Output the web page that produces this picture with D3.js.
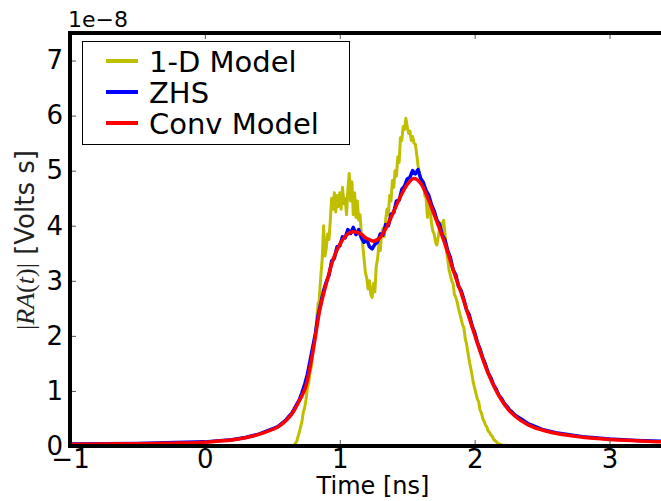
<!DOCTYPE html>
<html>
<head>
<meta charset="utf-8">
<script src="https://cdnjs.cloudflare.com/ajax/libs/d3/7.8.5/d3.min.js"></script>
<style>
  body { margin: 0; background: #fff; }
  svg { display: block; }
</style>
</head>
<body>
<div id="chart"></div>
<script>
// data, amplitudes in units of 1e-8 Volts s
var xTicks = [-1, 0, 1, 2, 3];
var yTicks = [0, 1, 2, 3, 4, 5, 6, 7];

// Conv Model (smooth)
var convTime = [-1, -0.75, -0.5, -0.25, 0, 0.1, 0.2, 0.3, 0.4, 0.5, 0.55, 0.6, 0.65, 0.7, 0.75, 0.8, 0.85, 0.9, 0.95,
  1.0, 1.05, 1.1, 1.15, 1.2, 1.25, 1.3, 1.35, 1.4, 1.45, 1.5, 1.55, 1.6, 1.65, 1.7, 1.75, 1.8, 1.85, 1.9, 1.95,
  2.0, 2.05, 2.1, 2.15, 2.2, 2.25, 2.3, 2.4, 2.5, 2.6, 2.8, 3.0, 3.2, 3.4, 3.5];
var convAmp = [0.03, 0.035, 0.04, 0.05, 0.07, 0.09, 0.11, 0.15, 0.21, 0.3, 0.36, 0.46, 0.6, 0.82, 1.1, 1.7, 2.45, 2.95, 3.38,
  3.66, 3.83, 3.89, 3.86, 3.77, 3.72, 3.79, 3.99, 4.26, 4.53, 4.75, 4.86, 4.77, 4.52, 4.2, 3.88, 3.52, 3.13, 2.78, 2.4,
  2.02, 1.65, 1.32, 1.05, 0.83, 0.66, 0.54, 0.38, 0.29, 0.23, 0.16, 0.12, 0.095, 0.075, 0.07];

// ZHS (noisy)
var zhsTime = [-1, -0.5, 0, 0.2, 0.3, 0.4,
  0.5, 0.52, 0.54, 0.56, 0.58, 0.6, 0.62, 0.64, 0.66, 0.68, 0.7, 0.72, 0.74, 0.76, 0.78,
  0.8, 0.82, 0.84, 0.86, 0.88, 0.9, 0.92, 0.94, 0.96, 0.98,
  1.0, 1.02, 1.04, 1.06, 1.08, 1.1, 1.12, 1.14, 1.16, 1.18,
  1.2, 1.22, 1.24, 1.26, 1.28, 1.3, 1.32, 1.34, 1.36, 1.38,
  1.4, 1.42, 1.44, 1.46, 1.48, 1.5, 1.52, 1.54, 1.56, 1.58,
  1.6, 1.62, 1.64, 1.66, 1.68, 1.7, 1.72, 1.74, 1.76, 1.78,
  1.8, 1.82, 1.84, 1.86, 1.88, 1.9, 1.92, 1.94, 1.96, 1.98,
  2.0, 2.02, 2.04, 2.06, 2.08, 2.1, 2.12, 2.14, 2.16, 2.18,
  2.2, 2.22, 2.24, 2.26, 2.28, 2.3, 2.35, 2.4, 2.45, 2.5,
  2.6, 2.8, 3.0, 3.2, 3.5];
var zhsAmp = [0.035, 0.045, 0.075, 0.115, 0.155, 0.215,
  0.31, 0.33, 0.35, 0.39, 0.43, 0.47, 0.53, 0.58, 0.66, 0.75, 0.84, 0.97, 1.12, 1.3, 1.55,
  1.8, 2.05, 2.38, 2.6, 2.82, 2.98, 3.1, 3.36, 3.41, 3.62,
  3.63, 3.8, 3.78, 3.93, 3.86, 3.97, 3.84, 3.93, 3.78, 3.7,
  3.75, 3.62, 3.58, 3.66, 3.7, 3.85, 3.83, 4.02, 4.0, 4.21,
  4.24, 4.45, 4.46, 4.66, 4.72, 4.85, 4.88, 5.0, 4.94, 5.02,
  4.86, 4.78, 4.64, 4.55, 4.38, 4.27, 4.1, 4.02, 3.83, 3.74,
  3.55, 3.42, 3.2, 3.11, 2.9, 2.82, 2.66, 2.47, 2.38, 2.19,
  2.06, 1.88, 1.76, 1.6, 1.48, 1.33, 1.24, 1.11, 1.03, 0.92,
  0.86, 0.77, 0.72, 0.65, 0.61, 0.56, 0.48, 0.4, 0.35, 0.3,
  0.24, 0.17, 0.125, 0.1, 0.075];

// 1-D Model (noisy, ends at 2.33 ns)
var oneDTime = [0, 0.3, 0.6, 0.66, 0.68, 0.7, 0.72, 0.73, 0.74, 0.75, 0.76, 0.77, 0.78, 0.79,
  0.8, 0.81, 0.82, 0.83, 0.84, 0.845, 0.85, 0.86, 0.87, 0.88, 0.89,
  0.9, 0.91, 0.92, 0.93, 0.94, 0.95, 0.96, 0.97, 0.98, 0.99,
  1.0, 1.01, 1.02, 1.03, 1.04, 1.05, 1.06, 1.07, 1.08, 1.09,
  1.1, 1.11, 1.12, 1.13, 1.14, 1.15, 1.16, 1.17, 1.18, 1.19,
  1.2, 1.21, 1.22, 1.23, 1.24, 1.25, 1.26, 1.27, 1.28, 1.29,
  1.3, 1.31, 1.32, 1.33, 1.34, 1.35, 1.36, 1.37, 1.38, 1.39,
  1.4, 1.41, 1.42, 1.43, 1.44, 1.45, 1.46, 1.47, 1.48, 1.49,
  1.5, 1.51, 1.52, 1.53, 1.54, 1.55, 1.56, 1.57, 1.58, 1.59,
  1.6, 1.61, 1.62, 1.63, 1.64, 1.65, 1.66, 1.67, 1.68, 1.69,
  1.7, 1.71, 1.72, 1.73, 1.74, 1.75, 1.76, 1.77, 1.78, 1.79,
  1.8, 1.81, 1.82, 1.83, 1.84, 1.85, 1.86, 1.87, 1.88, 1.89,
  1.9, 1.91, 1.92, 1.93, 1.94, 1.95, 1.96, 1.97, 1.98, 1.99,
  2.0, 2.01, 2.02, 2.03, 2.04, 2.05, 2.06, 2.07, 2.08, 2.09,
  2.1, 2.11, 2.12, 2.13, 2.14, 2.15, 2.16, 2.17, 2.18, 2.2, 2.25, 2.33];
var oneDAmp = [0, 0, 0, 0.01, 0.08, 0.25, 0.45, 0.62, 0.7, 0.85, 1.05, 1.15, 1.35, 1.45,
  1.7, 1.9, 2.05, 2.35, 2.6, 2.5, 2.75, 3.1, 3.4, 4.0, 3.45,
  3.6, 3.85, 3.75, 4.1, 4.5, 4.3, 4.6, 4.25, 4.55, 4.35,
  4.6, 4.3, 4.7, 4.4, 4.5, 4.2, 4.65, 4.95, 4.45, 4.8,
  4.2, 4.6, 4.15, 4.45, 4.1, 4.2, 3.85, 3.65, 3.4, 3.15,
  3.05, 2.85, 3.0, 2.75, 2.7, 2.95, 2.8, 3.25, 3.4, 3.65,
  3.55, 3.85, 3.95, 3.8, 4.1, 4.3, 4.2, 4.55, 4.45, 4.82,
  4.7, 5.0, 4.9, 5.25, 5.15, 5.6, 5.55, 5.8, 5.75, 5.95,
  5.8, 5.68, 5.72, 5.55, 5.62, 5.5, 5.48, 5.3, 5.1, 4.95,
  4.85, 4.75, 4.8, 4.55, 4.5, 4.15, 4.4, 4.3, 4.05, 3.9,
  3.85, 3.7, 3.65, 3.8, 3.95, 4.05, 3.9, 4.1, 3.85, 3.55,
  3.4, 3.2, 3.1, 3.0, 2.95, 2.75, 2.7, 2.62, 2.5, 2.4,
  2.3, 2.2, 2.15, 1.95, 1.85, 1.7, 1.55, 1.42, 1.3, 1.15,
  1.05, 0.95, 0.85, 0.8, 0.65, 0.6, 0.5, 0.45, 0.38, 0.35,
  0.27, 0.25, 0.2, 0.18, 0.12, 0.1, 0.08, 0.05, 0.04, 0.02, 0.01, 0];

var seriesNames = ["1-D Model", "ZHS", "Conv Model"];
var seriesColors = ["#bfbf00", "#0000ff", "#ff0000"];

var svgWidth = 661;
var svgHeight = 501;

var margin = { top: 33, left: 70, bottom: 55 };
var plotRight = 677; // axes run past the right edge of the picture
var plotBottom = svgHeight - margin.bottom;

var svg = d3.select("#chart").append("svg")
  .attr("width", svgWidth)
  .attr("height", svgHeight)
  .style("font-family", "'DejaVu Sans', sans-serif");

var xScale = d3.scaleLinear()
  .domain([-1, 3.5])
  .range([margin.left, plotRight]);

var yScale = d3.scaleLinear()
  .domain([0, 7.5])
  .range([plotBottom, margin.top]);

svg.append("clipPath")
  .attr("id", "plotClip")
  .append("rect")
  .attr("x", margin.left)
  .attr("y", margin.top)
  .attr("width", plotRight - margin.left)
  .attr("height", plotBottom - margin.top);

var lineGen = d3.line()
  .x(d => xScale(d[0]))
  .y(d => yScale(d[1]));

var smoothLine = d3.line()
  .x(d => xScale(d[0]))
  .y(d => yScale(d[1]))
  .curve(d3.curveMonotoneX);

var lines = svg.append("g").attr("clip-path", "url(#plotClip)");

// 1-D model underneath
lines.append("path")
  .datum(d3.zip(oneDTime, oneDAmp))
  .attr("d", lineGen)
  .attr("fill", "none")
  .attr("stroke", seriesColors[0])
  .attr("stroke-width", 3)
  .attr("stroke-linejoin", "round");

lines.append("path")
  .datum(d3.zip(zhsTime, zhsAmp))
  .attr("d", lineGen)
  .attr("fill", "none")
  .attr("stroke", seriesColors[1])
  .attr("stroke-width", 3.5)
  .attr("stroke-linejoin", "round");

lines.append("path")
  .datum(d3.zip(convTime, convAmp))
  .attr("d", smoothLine)
  .attr("fill", "none")
  .attr("stroke", seriesColors[2])
  .attr("stroke-width", 3.5);

// axes, ticks point inward
var xAxis = d3.axisBottom(xScale)
  .tickValues(xTicks)
  .tickSizeInner(-6)
  .tickSizeOuter(0)
  .tickPadding(4)
  .tickFormat(d => d < 0 ? "\u2212" + Math.abs(d) : d);

var gx = svg.append("g")
  .attr("transform", `translate(0, ${plotBottom})`)
  .call(xAxis);

var topAxis = d3.axisTop(xScale)
  .tickValues(xTicks)
  .tickSizeInner(-6)
  .tickSizeOuter(0)
  .tickFormat("");

var gt = svg.append("g")
  .attr("transform", `translate(0, ${margin.top})`)
  .call(topAxis);

var yAxis = d3.axisLeft(yScale)
  .tickValues(yTicks)
  .tickSizeInner(-6)
  .tickSizeOuter(0)
  .tickPadding(7);

var gy = svg.append("g")
  .attr("transform", `translate(${margin.left}, 0)`)
  .call(yAxis);

[gx, gt, gy].forEach(function(g) {
  g.select(".domain").remove();
  g.selectAll(".tick line").attr("stroke", "#555").attr("stroke-width", 1);
  g.selectAll(".tick text")
    .attr("fill", "#000")
    .style("font-size", "26px")
    .style("font-family", "'DejaVu Sans', sans-serif");
});

// frame (no right spine visible)
var frame = svg.append("g").attr("stroke", "#000").attr("stroke-width", 4);
frame.append("line")
  .attr("x1", margin.left).attr("x2", margin.left)
  .attr("y1", margin.top - 2).attr("y2", plotBottom + 2);
frame.append("line")
  .attr("x1", margin.left - 2).attr("x2", svgWidth)
  .attr("y1", margin.top).attr("y2", margin.top);
frame.append("line")
  .attr("x1", margin.left - 2).attr("x2", svgWidth)
  .attr("y1", plotBottom).attr("y2", plotBottom);

// offset text
svg.append("text")
  .attr("x", 68)
  .attr("y", 27)
  .style("font-size", "22px")
  .text("1e\u22128");

// axis labels
svg.append("text")
  .attr("x", 373)
  .attr("y", 494)
  .attr("text-anchor", "middle")
  .style("font-size", "24px")
  .text("Time [ns]");

var yLabel = svg.append("text")
  .attr("transform", "translate(34, 240) rotate(-90)")
  .attr("text-anchor", "middle")
  .style("font-size", "26px")
  .attr("fill", "#222");
yLabel.append("tspan").style("font-family", "'Liberation Serif', serif").text("|");
yLabel.append("tspan").style("font-family", "'Liberation Serif', serif").style("font-style", "italic").text("RA");
yLabel.append("tspan").style("font-family", "'Liberation Serif', serif").text("(");
yLabel.append("tspan").style("font-family", "'Liberation Serif', serif").style("font-style", "italic").text("t");
yLabel.append("tspan").style("font-family", "'Liberation Serif', serif").text(")|");
yLabel.append("tspan").text(" [Volts s]");

// legend
var legend = svg.append("g");
legend.append("rect")
  .attr("x", 82.5)
  .attr("y", 41.5)
  .attr("width", 267)
  .attr("height", 103)
  .attr("fill", "#fff")
  .attr("stroke", "#000")
  .attr("stroke-width", 1);

var legendItems = legend.selectAll(".item")
  .data(seriesNames)
  .enter()
  .append("g")
  .attr("transform", (d, i) => `translate(0, ${61 + i * 31})`);

legendItems.append("line")
  .attr("x1", 106).attr("x2", 138)
  .attr("y1", 0).attr("y2", 0)
  .attr("stroke", (d, i) => seriesColors[i])
  .attr("stroke-width", 4);

legendItems.append("text")
  .attr("x", 149)
  .attr("y", 11)
  .style("font-size", "29px")
  .text(d => d);
</script>
</body>
</html>
